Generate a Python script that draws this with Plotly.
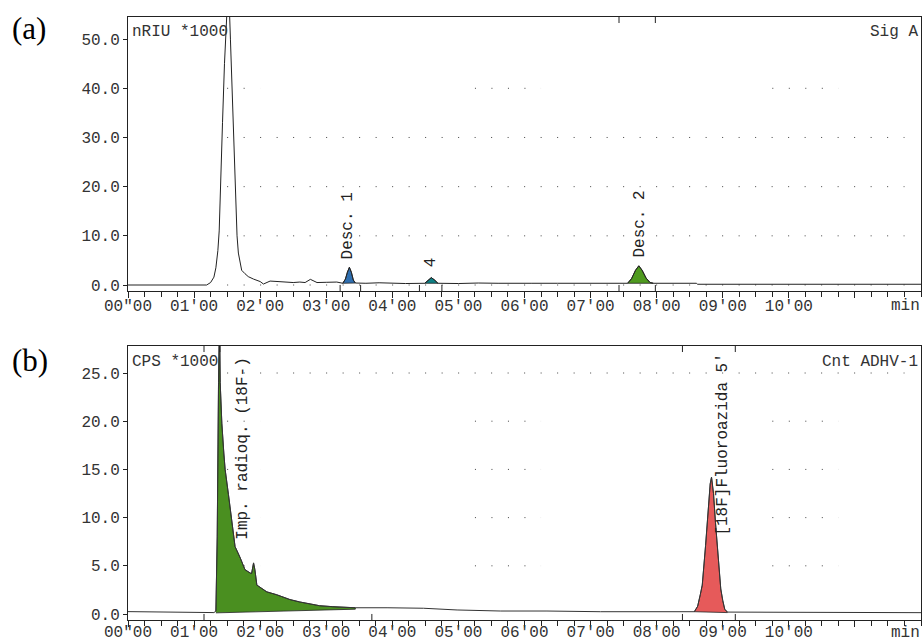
import plotly.graph_objects as go

# ---------------- data: chromatogram (a) refractive index ----------------
time_a = [0.0, 1.0, 1.19, 1.25, 1.30, 1.33, 1.36, 1.38, 1.40, 1.43, 1.46, 1.49, 1.52, 1.55, 1.58,
          1.61, 1.63, 1.65, 1.67, 1.70, 1.72, 1.77, 1.82, 1.90, 2.00, 2.05, 2.10, 2.15, 2.27, 2.40,
          2.50, 2.60, 2.68, 2.76, 2.86, 3.00, 3.16, 3.25, 3.29, 3.32, 3.35, 3.38, 3.41, 3.44, 3.60,
          3.80, 4.00, 4.20, 4.49, 4.54, 4.59, 4.64, 4.69, 5.00, 5.30, 5.60, 6.00, 6.10, 6.50, 7.00,
          7.50, 7.56, 7.62, 7.68, 7.73, 7.78, 7.84, 7.90, 7.95, 8.30, 8.60, 8.62, 12.0]
signal_a = [0.0, 0.0, 0.0, 0.5, 1.6, 3.5, 7.0, 11.0, 21.0, 33.0, 45.0, 56.0, 62.0, 50.0, 37.0,
            23.0, 15.0, 10.0, 6.5, 3.8, 3.0, 2.3, 1.7, 1.2, 0.7, 0.2, 0.5, 0.8, 0.7, 0.55,
            0.5, 0.6, 0.5, 1.15, 0.5, 0.55, 0.6, 0.35, 1.2, 2.6, 3.6, 2.6, 1.0, 0.4, 0.35,
            0.45, 0.35, 0.3, 0.35, 1.0, 1.5, 1.0, 0.35, 0.3, 0.4, 0.35, 0.45, 0.35, 0.35, 0.35,
            0.35, 0.35, 1.3, 3.0, 3.9, 3.0, 1.4, 0.5, 0.35, 0.35, 0.35, 0.15, 0.15]

peak_a_labels = ["Desc. 1", "4", "Desc. 2"]
peak_a_start = [3.25, 4.49, 7.56]
peak_a_end = [3.44, 4.69, 7.95]
peak_a_colors = ["#2f6fb0", "#0e7f84", "#4f9a1f"]
peak_a_label_x = [3.33, 4.59, 7.75]
peak_a_label_y = [4.7, 3.25, 5.1]

# ---------------- data: chromatogram (b) radioactivity ----------------
time_b = [0.0, 0.5, 1.0, 1.30, 1.33, 1.35, 1.37, 1.385, 1.395, 1.42, 1.45, 1.47, 1.52, 1.59, 1.62,
          1.70, 1.77, 1.85, 1.87, 1.90, 1.92, 1.95, 2.10, 2.25, 2.45, 2.60, 2.90, 3.10, 3.44, 3.92,
          4.47, 4.98, 5.64, 6.34, 7.15, 8.57, 8.62, 8.66, 8.69, 8.74, 8.78, 8.81, 8.83, 8.86, 8.89,
          8.92, 8.95, 8.97, 9.00, 9.03, 9.07, 12.0]
signal_b = [0.25, 0.22, 0.2, 0.15, 0.3, 8.0, 24.0, 31.0, 24.0, 19.8, 16.7, 15.0, 12.4, 8.4, 7.0,
            5.8, 4.6, 4.25, 4.2, 5.3, 4.6, 3.0, 2.3, 2.0, 1.5, 1.25, 0.86, 0.76, 0.65, 0.65,
            0.6, 0.42, 0.31, 0.31, 0.24, 0.24, 0.8, 2.0, 3.0, 7.1, 11.0, 13.5, 14.2, 12.5, 9.5,
            6.5, 3.6, 2.6, 1.4, 0.5, 0.2, 0.14]

peak_b_labels = ["Imp. radioq. (18F-)", "[18F]Fluoroazida 5'"]
peak_b_start = [1.33, 8.57]
peak_b_end = [3.44, 9.07]
peak_b_base_start = [0.12, 0.24]
peak_b_base_end = [0.5, 0.15]
peak_b_colors = ["#4a8f20", "#e65a5a"]
peak_b_label_x = [1.74, 9.0]
peak_b_label_y = [7.5, 7.9]

# axis ticks
x_tick_vals = list(range(0, 12))
x_tick_text = ['00"00', "01'00", "02'00", "03'00", "04'00", "05'00", "06'00", "07'00",
               "08'00", "09'00", "10'00", ""]
y_ticks_a = [0, 10, 20, 30, 40, 50]
y_ticks_b = [0, 5, 10, 15, 20, 25]

# event marks (integration markers)
marks_a_top = [7.43, 7.98]
marks_a_bottom = [3.21, 3.52, 4.41, 4.75, 7.43, 7.98]
marks_b_top = [1.15, 1.39, 8.39, 9.19]
marks_b_bottom = [1.15, 3.69, 8.39, 9.19]

# dotted grid rows: full rows and partial rows with segments
grid_full_a = [0, 10, 20, 30]
grid_part_a = [40]
grid_full_b = [25]
grid_part_b = [5, 10, 15, 20]
grid_full_span = [1.5, 11.75]
grid_part_spans = [[1.5, 2.0], [5.25, 6.25], [9.75, 10.75]]

assert len(time_a) == len(signal_a)
assert len(time_b) == len(signal_b)

MONO = "Liberation Mono, Courier New, monospace"
SERIF = "Liberation Serif, Times New Roman, serif"
INK = "#222222"

fig = go.Figure()


def peak_fill(t, s, t0, t1, b0, b1, color, xa, ya):
    seg = [(ti, si) for ti, si in zip(t, s) if t0 <= ti <= t1]
    xs = [p[0] for p in seg] + [t1, t0]
    ys = [p[1] for p in seg] + [b1, b0]
    return go.Scatter(x=xs, y=ys, mode="lines", fill="toself", fillcolor=color,
                      line=dict(color=INK, width=0.8), hoverinfo="skip",
                      showlegend=False, xaxis=xa, yaxis=ya)


# fills for (a)
for t0, t1, c in zip(peak_a_start, peak_a_end, peak_a_colors):
    s0 = signal_a[time_a.index(t0)]
    s1 = signal_a[time_a.index(t1)]
    fig.add_trace(peak_fill(time_a, signal_a, t0, t1, s0, s1, c, "x", "y"))

fig.add_trace(go.Scatter(x=time_a, y=signal_a, mode="lines",
                         line=dict(color=INK, width=1), showlegend=False,
                         xaxis="x", yaxis="y"))

# fills for (b)
for t0, t1, b0, b1, c in zip(peak_b_start, peak_b_end, peak_b_base_start,
                             peak_b_base_end, peak_b_colors):
    fig.add_trace(peak_fill(time_b, signal_b, t0, t1, b0, b1, c, "x2", "y2"))

fig.add_trace(go.Scatter(x=time_b, y=signal_b, mode="lines",
                         line=dict(color="#333333", width=1), showlegend=False,
                         xaxis="x2", yaxis="y2"))

shapes = []


def grid_row(xref, yref, y, x0, x1):
    return dict(type="line", xref=xref, yref=yref, x0=x0, x1=x1, y0=y, y1=y,
                line=dict(color="#444444", width=1, dash="1px,15.5px"), layer="below")


for y in grid_full_a:
    shapes.append(grid_row("x", "y", y, *grid_full_span))
for y in grid_part_a:
    for sp in grid_part_spans:
        shapes.append(grid_row("x", "y", y, *sp))
for y in grid_full_b:
    shapes.append(grid_row("x2", "y2", y, *grid_full_span))
for y in grid_part_b:
    for sp in grid_part_spans:
        shapes.append(grid_row("x2", "y2", y, *sp))


def mark(xref, yref, x, top):
    if top:
        y0, y1 = 1.0, 0.978
    else:
        y0, y1 = 0.0, 0.022
    return dict(type="line", xref=xref, yref=yref, x0=x, x1=x, y0=y0, y1=y1,
                line=dict(color=INK, width=1))


for x in marks_a_top:
    shapes.append(mark("x", "y domain", x, True))
for x in marks_a_bottom:
    shapes.append(mark("x", "y domain", x, False))
for x in marks_b_top:
    shapes.append(mark("x2", "y2 domain", x, True))
for x in marks_b_bottom:
    shapes.append(mark("x2", "y2 domain", x, False))

annotations = []
lab_font = dict(family=MONO, size=16, color="#333333")
annotations.append(dict(text="(a)", xref="paper", yref="paper", x=10 / 922, y=1 - 29 / 641,
                        xanchor="left", yanchor="middle", showarrow=False,
                        font=dict(family=SERIF, size=31, color="black")))
annotations.append(dict(text="(b)", xref="paper", yref="paper", x=10 / 922, y=1 - 360 / 641,
                        xanchor="left", yanchor="middle", showarrow=False,
                        font=dict(family=SERIF, size=31, color="black")))
annotations.append(dict(text="nRIU *1000", xref="x domain", yref="y domain", x=0, y=1,
                        xanchor="left", yanchor="top", xshift=2, yshift=-4,
                        showarrow=False, font=lab_font))
annotations.append(dict(text="Sig A", xref="x domain", yref="y domain", x=1, y=1,
                        xanchor="right", yanchor="top", xshift=-1, yshift=-4,
                        showarrow=False, font=lab_font))
annotations.append(dict(text="CPS *1000", xref="x2 domain", yref="y2 domain", x=0, y=1,
                        xanchor="left", yanchor="top", xshift=2, yshift=-5,
                        showarrow=False, font=lab_font))
annotations.append(dict(text="Cnt ADHV-1", xref="x2 domain", yref="y2 domain", x=1, y=1,
                        xanchor="right", yanchor="top", xshift=-1, yshift=-5,
                        showarrow=False, font=lab_font))
for xr, yr, ys in (("x", "y domain", -4), ("x2", "y2 domain", -2)):
    annotations.append(dict(text="min", xref=xr, yref=yr, x=11.77, y=0,
                            xanchor="center", yanchor="top", yshift=ys,
                            showarrow=False, font=lab_font))

for txt, x, y in zip(peak_a_labels, peak_a_label_x, peak_a_label_y):
    annotations.append(dict(text=txt, xref="x", yref="y", x=x, y=y, textangle=-90,
                            xanchor="center", yanchor="bottom", showarrow=False,
                            font=dict(family=MONO, size=16, color=INK)))
for txt, x, y in zip(peak_b_labels, peak_b_label_x, peak_b_label_y):
    annotations.append(dict(text=txt, xref="x2", yref="y2", x=x, y=y, textangle=-90,
                            xanchor="center", yanchor="bottom", showarrow=False,
                            font=dict(family=MONO, size=16, color=INK)))

x_dom = [128 / 922, 921 / 922]


def xaxis_cfg(anchor, standoff):
    return dict(domain=x_dom, anchor=anchor, range=[0, 12], tickmode="array",
                tickvals=x_tick_vals, ticktext=x_tick_text, ticks="outside", ticklen=6,
                tickcolor=INK, tickwidth=1, showline=True, linecolor=INK, linewidth=1,
                mirror=True, showgrid=False, zeroline=False, automargin=False,
                ticklabelstandoff=standoff,
                tickfont=dict(family=MONO, size=16, color="#333333"),
                minor=dict(ticks="outside", ticklen=5, tickcolor=INK, tick0=0, dtick=0.25,
                           showgrid=False))


def yaxis_cfg(anchor, dom, rng, vals):
    return dict(domain=dom, anchor=anchor, range=rng, tickmode="array", tickvals=vals,
                tickformat=".1f", ticks="outside", ticklen=4, tickcolor=INK,
                showline=True, linecolor=INK, linewidth=1, mirror=True, showgrid=False,
                zeroline=False, automargin=False,
                tickfont=dict(family=MONO, size=16, color="#333333"))


fig.update_layout(
    width=922, height=641,
    margin=dict(l=0, r=0, t=0, b=0),
    paper_bgcolor="white", plot_bgcolor="white",
    showlegend=False,
    xaxis=xaxis_cfg("y", -6),
    yaxis=yaxis_cfg("x", [1 - 291 / 641, 1 - 17 / 641], [-1.22, 54.5], y_ticks_a),
    xaxis2=xaxis_cfg("y2", -9),
    yaxis2=yaxis_cfg("x2", [1 - 620 / 641, 1 - 346 / 641], [-0.62, 27.8], y_ticks_b),
    shapes=shapes,
    annotations=annotations,
)

fig.write_html("out.html", config={"displayModeBar": False},
               post_script="document.body.style.margin='0';")
